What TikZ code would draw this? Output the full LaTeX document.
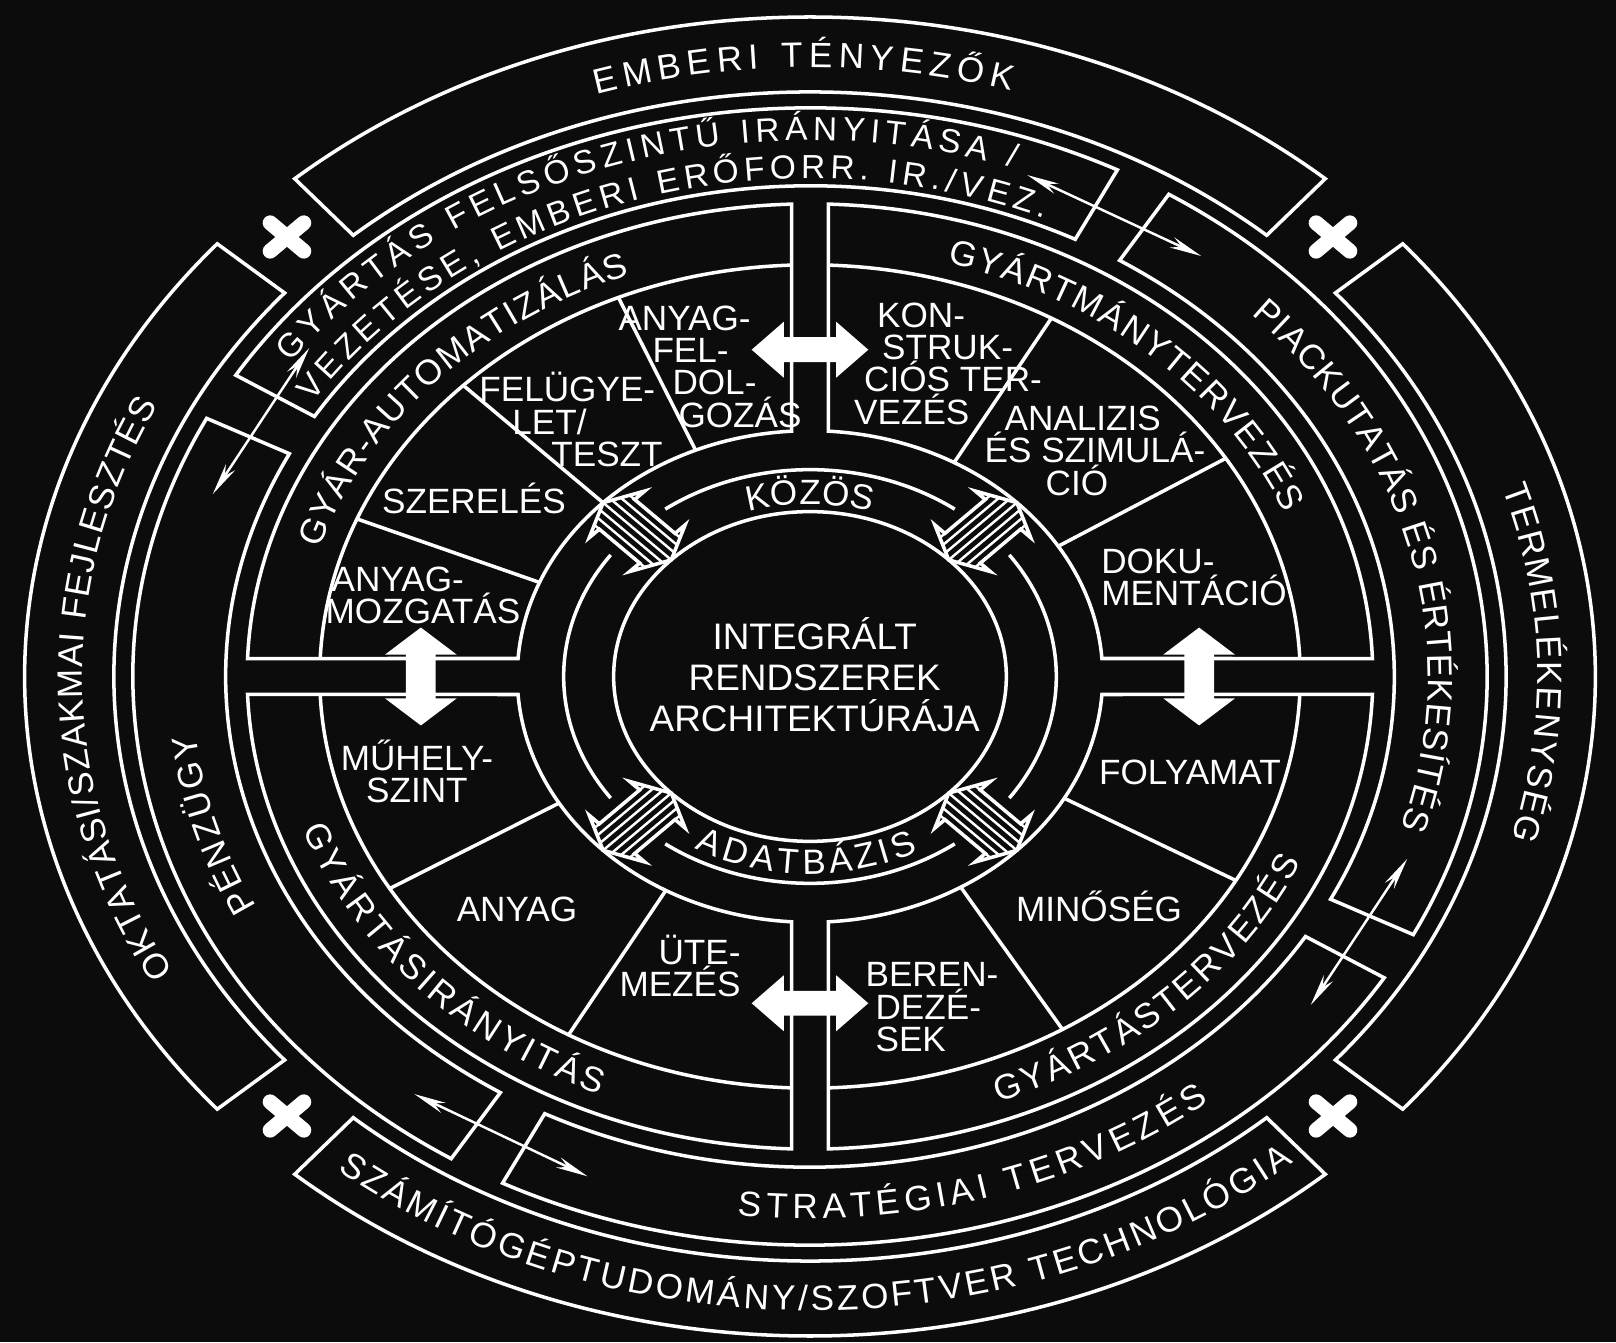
\documentclass[tikz,border=0pt]{standalone}
\usepackage{fontspec}
\setmainfont{Liberation Sans}
\usetikzlibrary{decorations.text,arrows.meta}
\definecolor{bg}{RGB}{12,12,12}
\newcommand\bandfont{\fontsize{10}{12}\selectfont}
\newcommand\twofont{\fontsize{9.5}{11}\selectfont}
\newcommand\ringfont{\fontsize{10}{12}\selectfont}

\begin{document}
\begin{tikzpicture}[x=0.0119cm, y=0.01cm,
  ln/.style={draw=white, line width=1pt},
  lbl/.style={text=white, font=\fontsize{10}{9.2}\selectfont, inner sep=0pt, align=left},
  arctxt/.style={decorate, decoration={text along path, text align={fit to path}, text color=white, raise=-0.125cm}},
  smalltxt/.style={decorate, decoration={text along path, text align={fit to path}, text color=white, raise=-0.125cm}},
  linkarr/.style={white, line width=0.7pt, {Stealth[length=0.32cm,width=0.11cm]}-{Stealth[length=0.32cm,width=0.11cm]}}]
\fill[bg] (-680.67,-666) rectangle (677.31,677);
\useasboundingbox (-680.67,-666) rectangle (677.31,677);

% outer band
\foreach \c in {90,0,270,180}
  \draw[ln] ({\c+41}:660) arc[start angle=\c+41, end angle=\c-41, radius=660]
    -- ({\c-41}:585) arc[start angle=\c-41, end angle=\c+41, radius=585] -- cycle;
\foreach \t in {45,135,225,315}
  \draw[white, line width=0.15cm, line cap=round, x=0.01cm, y=0.01cm, xscale=1.19,
    shift={(\t:622)}, rotate=\t] (-20,0) -- (20,0) (0,-20) -- (0,20);

% second band
\foreach \a in {63,153,243,333}
  \draw[ln] (\a:569) arc[start angle=\a, end angle=\a+85, radius=569]
    -- ({\a+85}:491) arc[start angle=\a+85, end angle=\a, radius=491] -- cycle;
\foreach \t in {61,151,240.5,331}
  \draw[linkarr] ({\t+9}:534) -- ({\t-9}:534);

% quadrants
\foreach \sx/\sy in {1/1,-1/1,1/-1,-1/-1} {
  \begin{scope}[xscale=\sx, yscale=\sy]
    \draw[ln] (91.88:473) arc[start angle=91.88, end angle=177.82, radius=473]
      -- (175.80:246) arc[start angle=175.80, end angle=93.61, radius=246] -- cycle;
    \draw[ln] (92.16:412) arc[start angle=92.16, end angle=177.50, radius=412];
  \end{scope}
}
\foreach \t in {113,135,157.5,32,60.5,211,240.5,-29.7,-59}
  \draw[ln] (\t:412) -- (\t:246);

% white arrows in the gaps
\foreach \y in {327,-327}
  \fill[white] (-49,\y) -- ++(27,28) -- ++(0,-15.5) -- ++(44,0) -- ++(0,15.5) -- ++(27,-28)
    -- ++(-27,-28) -- ++(0,15.5) -- ++(-44,0) -- ++(0,-15.5) -- cycle;
\foreach \x in {327,-327}
  \fill[white] (\x,-49) -- ++(30,27) -- ++(-17.5,0) -- ++(0,44) -- ++(17.5,0) -- ++(-30,27)
    -- ++(-30,-27) -- ++(17.5,0) -- ++(0,-44) -- ++(-17.5,0) -- cycle;

% centre
\draw[ln] (0,0) circle[radius=165];
\foreach \a in {54,144,234,324}
  \draw[ln] (\a:207) arc[start angle=\a, end angle=\a+72, radius=207];
\foreach \t in {45,135,225,315} {
  \begin{scope}[x=0.01cm, y=0.01cm, xscale=1.19, shift={(\t:205.5)}, rotate=\t]
    \fill[bg] (-40.5,0) -- (-24,33) -- (-24,21) -- (24,21) -- (24,33) -- (40.5,0)
      -- (24,-33) -- (24,-21) -- (-24,-21) -- (-24,-33) -- cycle;
    \begin{scope}
      \clip (-40.5,0) -- (-24,33) -- (-24,21) -- (24,21) -- (24,33) -- (40.5,0)
        -- (24,-33) -- (24,-21) -- (-24,-21) -- (-24,-33) -- cycle;
      \foreach \v in {-28,-21,...,28}
        \draw[white, line width=0.7pt] (-45,\v) -- (45,\v);
    \end{scope}
    \draw[ln] (-40.5,0) -- (-24,33) -- (-24,21) -- (24,21) -- (24,33) -- (40.5,0)
      -- (24,-33) -- (24,-21) -- (-24,-21) -- (-24,-33) -- cycle;
  \end{scope}
}

% ring texts
\path[arctxt, decoration={text={|\bandfont|EMBERI TÉNYEZŐK}}] (107:622) arc[start angle=107, end angle=74, radius=622];
\path[arctxt, decoration={text={|\bandfont|TERMELÉKENYSÉG}}] (18:622) arc[start angle=18, end angle=-15.5, radius=622];
\path[arctxt, decoration={text={|\bandfont|SZÁMÍTÓGÉPTUDOMÁNY/SZOFTVER TECHNOLÓGIA}}] (231:622) arc[start angle=231, end angle=310, radius=622];
\path[arctxt, decoration={text={|\bandfont|OKTATÁSI/SZAKMAI FEJLESZTÉS}}] (209:622) arc[start angle=209, end angle=153.5, radius=622];
\path[arctxt, decoration={text={|\twofont|GYÁRTÁS FELSŐSZINTŰ IRÁNYITÁSA /}}] (144:549) arc[start angle=144, end angle=71.5, radius=549];
\path[arctxt, decoration={text={|\twofont|VEZETÉSE, EMBERI ERŐFORR. IR./VEZ.}}] (146.5:511) arc[start angle=146.5, end angle=67, radius=511];
\path[arctxt, decoration={text={|\bandfont|PIACKUTATÁS ÉS ÉRTÉKESÍTÉS}}] (44.5:530) arc[start angle=44.5, end angle=-17, radius=530];
\path[arctxt, decoration={text={|\bandfont|STRATÉGIAI TERVEZÉS}}] (263.5:530) arc[start angle=263.5, end angle=308.5, radius=530];
\path[arctxt, decoration={text={|\bandfont|PÉNZÜGY}}] (206.5:530) arc[start angle=206.5, end angle=186.5, radius=530];
\path[arctxt, decoration={text={|\bandfont|GYÁR-AUTOMATIZÁLÁS}}] (162.5:442) arc[start angle=162.5, end angle=110.5, radius=442];
\path[arctxt, decoration={text={|\bandfont|GYÁRTMÁNYTERVEZÉS}}] (74.5:442) arc[start angle=74.5, end angle=22.5, radius=442];
\path[arctxt, decoration={text={|\bandfont|GYÁRTÁSIRÁNYITÁS}}] (199.5:442) arc[start angle=199.5, end angle=247, radius=442];
\path[arctxt, decoration={text={|\bandfont|GYÁRTÁSTERVEZÉS}}] (290.5:442) arc[start angle=290.5, end angle=336, radius=442];
\path[smalltxt, decoration={text={|\ringfont|KÖZÖS}}] (107:185) arc[start angle=107, end angle=73, radius=185];
\path[smalltxt, decoration={text={|\ringfont|ADATBÁZIS}}] (240:185) arc[start angle=240, end angle=298, radius=185];

% sector labels
\node[lbl] (anyagfel) at (-84,310) {ANYAG-\\\hspace*{0.34cm}FEL-\\\hspace*{0.54cm}DOL-\\\hspace*{0.6cm}GOZÁS};
\node[lbl] (felugyelet) at (-200.8,257) {FELÜGYE-\\\hspace*{0.33cm}LET/\\\hspace*{0.72cm}TESZT};
\node[lbl] (szereles) at (-282.4,178) {SZERELÉS};
\node[lbl] (anyagmozg) at (-325.2,81) {\hspace*{0.06cm}ANYAG-\\MOZGATÁS};
\node[lbl] (konstr) at (116,313) {\hspace*{0.23cm}KON-\\\hspace*{0.28cm}STRUK-\\\hspace*{0.1cm}CIÓS TER-\\VEZÉS};
\node[lbl] (analizis) at (239.5,226) {\hspace*{0.2cm}ANALIZIS\\ÉS SZIMULÁ-\\\hspace*{0.61cm}CIÓ};
\node[lbl] (dokument) at (322.7,99) {DOKU-\\MENTÁCIÓ};
\node[lbl, align=center] (muhely) at (-330.3,-95) {MŰHELY-\\SZINT};
\node[lbl] (anyag) at (-246.2,-233) {ANYAG};
\node[lbl, align=right] (utemezes) at (-109.2,-290) {ÜTE-\\MEZÉS};
\node[lbl] (folyamat) at (319.3,-96) {FOLYAMAT};
\node[lbl] (minoseg) at (242.9,-230) {MINŐSÉG};
\node[lbl] (berend) at (102.5,-331) {BEREN-\\\hspace*{0.1cm}DEZÉ-\\\hspace*{0.1cm}SEK};
\node[lbl, align=center, font=\fontsize{10.5}{11.7}\selectfont] (integ) at (4,2) {INTEGRÁLT\\RENDSZEREK\\ARCHITEKTÚRÁJA};
\end{tikzpicture}
\end{document}
